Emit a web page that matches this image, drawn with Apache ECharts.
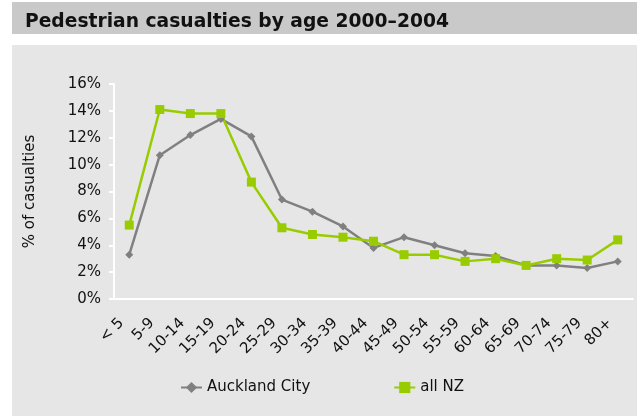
<!DOCTYPE html>
<html><head><meta charset="utf-8">
<script src="https://cdn.jsdelivr.net/npm/echarts@6/dist/echarts.min.js"></script>
<style>html,body{margin:0;padding:0;background:#fff}#c{width:637px;height:416px}</style>
</head><body><div id="c"></div>
<script>
var categories = ['< 5','5-9','10-14','15-19','20-24','25-29','30-34','35-39','40-44','45-49','50-54','55-59','60-64','65-69','70-74','75-79','80+'];
var auckland = [3.3,10.7,12.2,13.4,12.1,7.4,6.5,5.4,3.8,4.6,4.0,3.4,3.2,2.5,2.5,2.3,2.8];
var allNZ = [5.5,14.1,13.8,13.8,8.7,5.3,4.8,4.6,4.3,3.3,3.3,2.8,3.0,2.5,3.0,2.9,4.4];
var yTicks = [0,2,4,6,8,10,12,14,16];
var font = 'DejaVu Sans, Verdana, sans-serif';
var chart = echarts.init(document.getElementById('c'));
chart.setOption({
  backgroundColor: '#ffffff',
  animation: false,
  graphic: [
    {type:'rect', shape:{x:12,y:2,width:625,height:32}, style:{fill:'#c9c9c9'}, z:-10},
    {type:'rect', shape:{x:12,y:45,width:625,height:371}, style:{fill:'#e6e6e6'}, z:-10}
  ],
  title: {text:'Pedestrian casualties by age 2000\u20132004', left:20, top:8,
    textStyle:{fontFamily:font, fontWeight:'bold', fontSize:18.7, color:'#111'}},
  grid: {left:114, right:4, top:84, bottom:117},
  legend: {left:175, top:375, itemGap:83, itemWidth:21, itemHeight:14,
    textStyle:{fontFamily:font, fontSize:15, color:'#111'},
    data:['Auckland City','all NZ']},
  xAxis: {type:'category', data:categories, boundaryGap:true,
    axisLine:{lineStyle:{color:'#ffffff', width:2}},
    axisTick:{show:false},
    axisLabel:{rotate:45, fontFamily:font, fontSize:15, color:'#111', interval:0, margin:14, padding:[0,11,0,0]}},
  yAxis: {type:'value', min:0, max:16, interval:2,
    name:'% of casualties', nameLocation:'middle', nameGap:76, nameRotate:90,
    nameTextStyle:{fontFamily:font, fontSize:15, color:'#111'},
    axisLine:{show:true, lineStyle:{color:'#ffffff', width:2}},
    axisTick:{show:true, length:5, lineStyle:{color:'#ffffff', width:2}},
    splitLine:{show:false},
    axisLabel:{fontFamily:font, fontSize:15, color:'#111', margin:13, formatter:function(v){return v+'%';}}},
  series: [
    {name:'Auckland City', type:'line', data:auckland, symbol:'diamond', symbolSize:8,
     itemStyle:{color:'#808080'}, lineStyle:{color:'#808080', width:2.5}},
    {name:'all NZ', type:'line', data:allNZ, symbol:'rect', symbolSize:9,
     itemStyle:{color:'#99cc00'}, lineStyle:{color:'#99cc00', width:2.5}}
  ]
});
</script></body></html>
